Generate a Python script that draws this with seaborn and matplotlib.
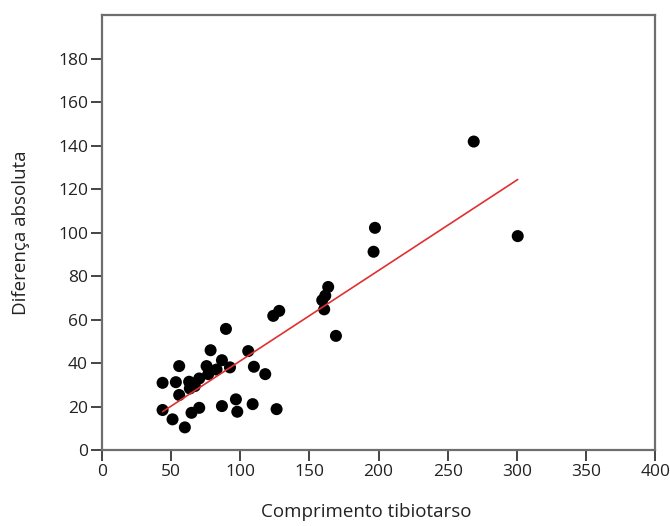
import numpy as np
import pandas as pd
import matplotlib
matplotlib.use("Agg")
import matplotlib.pyplot as plt
import seaborn as sns

# values
comprimento = [268.8, 300.6, 197.4, 196.4, 163.6, 159.3, 160.7, 169.2, 128.2, 123.9,
               89.7, 78.6, 105.8, 55.9, 75.7, 86.8, 92.6, 109.9, 118.1, 82.9,
               76.9, 43.9, 53.5, 63.1, 70.4, 67.2, 63.6, 55.9, 43.9, 51.1,
               60.0, 64.8, 70.4, 86.8, 96.9, 97.9, 109.0, 126.3, 161.5, 66.0]
diferenca = [141.9, 98.4, 102.2, 91.2, 75.0, 68.9, 64.7, 52.5, 64.0, 61.7,
             55.7, 45.9, 45.5, 38.6, 38.6, 41.3, 38.0, 38.3, 34.9, 37.0,
             34.9, 30.9, 31.2, 31.4, 32.9, 29.4, 28.3, 25.3, 18.4, 14.1,
             10.4, 17.1, 19.4, 20.2, 23.3, 17.6, 21.1, 18.8, 71.0, 30.5]

df = pd.DataFrame({"x": comprimento, "y": diferenca})

sns.set_style("white")
plt.rcParams["font.family"] = ["Open Sans", "DejaVu Sans"]

fig = plt.figure(figsize=(6.7, 5.26), dpi=100)
ax = fig.add_axes([0.152, 0.1445, 0.826, 0.8265])

sns.regplot(data=df, x="x", y="y", ci=None, ax=ax,
            scatter_kws={"s": 75, "color": "black", "edgecolor": "none", "alpha": 1},
            line_kws={"color": "#e03030", "linewidth": 1.2})

ax.set_xlim(0, 400)
ax.set_ylim(0, 200)
ax.set_xticks(range(0, 401, 50))
ax.set_yticks(range(0, 181, 20))
ax.set_xlabel("Comprimento tibiotarso", fontsize=13.5, color="#222222")
ax.set_ylabel("Diferença absoluta", fontsize=13.5, labelpad=20, color="#222222")
# label sits a little left of the axes centre in the original
ax.xaxis.set_label_coords(0.477, -0.122)

for s in ax.spines.values():
    s.set_color("#6e6e6e")
    s.set_linewidth(1.6)
ax.tick_params(axis="both", direction="out", length=8, width=1.4, color="#444444",
               labelsize=12.5, labelcolor="#222222", left=True, bottom=True, pad=2)

fig.savefig("out.png", dpi=100)
